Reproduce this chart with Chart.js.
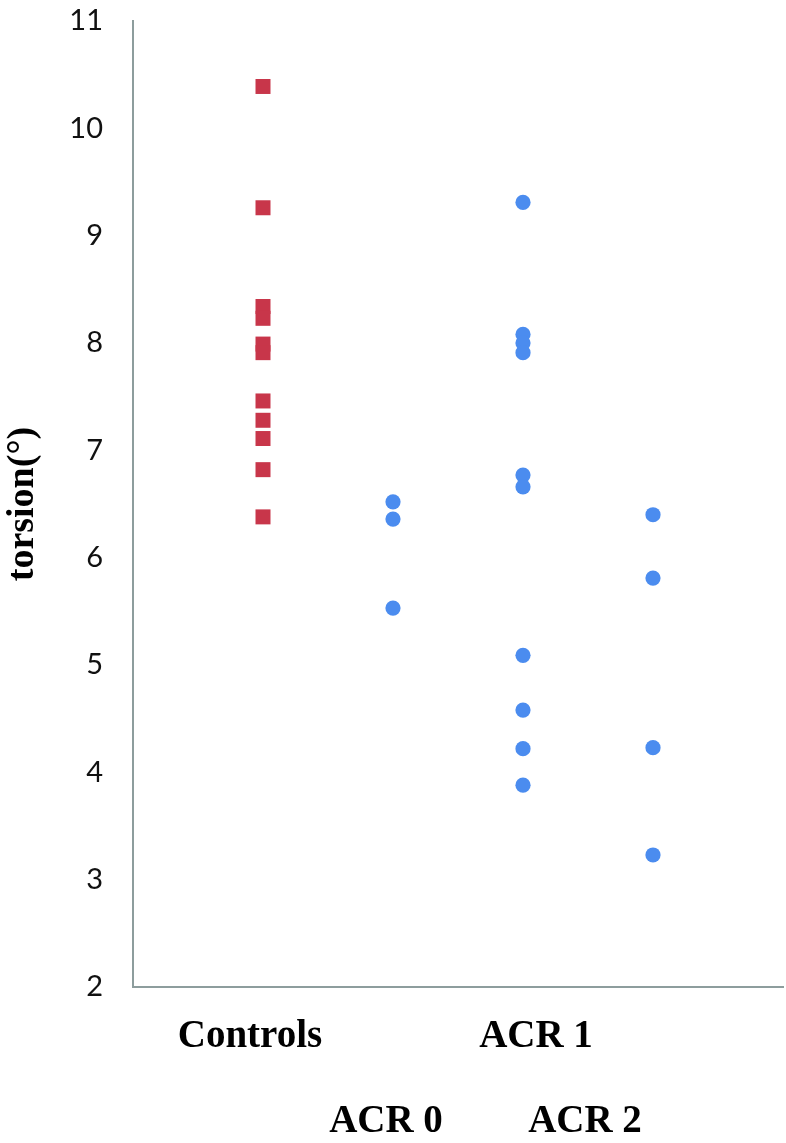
<!DOCTYPE html>
<html>
<head>
<meta charset="utf-8">
<script src="https://cdn.jsdelivr.net/npm/chart.js@4/dist/chart.umd.min.js"></script>
<style>
  html, body { margin: 0; padding: 0; background: #fff; }
  canvas { display: block; }
</style>
</head>
<body>
<canvas id="c" width="786" height="1143"></canvas>
<script>
// ---- data ----
const categories = ["Controls", "ACR 0", "ACR 1", "ACR 2"];
const categoryX = [1, 2, 3, 4];
const controls = [10.39, 9.26, 8.34, 8.23, 7.99, 7.91, 7.46, 7.28, 7.11, 6.82, 6.38];
const acr0 = [6.52, 6.36, 5.53];
const acr1 = [9.31, 8.08, 8.00, 7.91, 6.77, 6.66, 5.09, 4.58, 4.22, 3.88];
const acr2 = [6.40, 5.81, 4.23, 3.23];
const yTicks = [2, 3, 4, 5, 6, 7, 8, 9, 10, 11];
const yTitle = "torsion(°)";

// ---- styles ----
const RED = "#c8364a";
const BLUE = "#4b8cef";
const AXIS = "#8d9d9d";
const labelDx = [-13, -7, 13, -68];      // px shift of each category label
const labelRow = [60, 145, 60, 145];     // baseline offset below axis

const toPts = (x, arr) => arr.map(v => ({ x: x, y: v }));

const catLabels = {
  id: "catLabels",
  afterDraw(chart) {
    const { ctx, scales: { x } } = chart;
    ctx.save();
    ctx.font = 'bold 39px "Liberation Serif", "Times New Roman", serif';
    ctx.fillStyle = "#000";
    ctx.textAlign = "center";
    ctx.textBaseline = "alphabetic";
    categories.forEach((c, i) => {
      const px = x.getPixelForValue(categoryX[i]) + labelDx[i];
      ctx.fillText(c, px, x.top + labelRow[i]);
    });
    ctx.restore();
  }
};

new Chart(document.getElementById("c"), {
  type: "scatter",
  data: {
    datasets: [
      {
        label: categories[0],
        data: toPts(categoryX[0], controls),
        pointStyle: "rect",
        pointRadius: 10.6,
        pointHoverRadius: 10.6,
        backgroundColor: RED,
        borderColor: RED,
        borderWidth: 0
      },
      {
        label: "ACR",
        data: [
          ...toPts(categoryX[1], acr0),
          ...toPts(categoryX[2], acr1),
          ...toPts(categoryX[3], acr2)
        ],
        pointStyle: "circle",
        pointRadius: 7.6,
        pointHoverRadius: 7.6,
        backgroundColor: BLUE,
        borderColor: BLUE,
        borderWidth: 0
      }
    ]
  },
  options: {
    responsive: false,
    animation: false,
    devicePixelRatio: 1,
    layout: { autoPadding: false, padding: { top: 21, right: 3, left: 0, bottom: 0 } },
    plugins: { legend: { display: false }, tooltip: { enabled: false } },
    scales: {
      x: {
        type: "linear",
        min: 0,
        max: 5,
        ticks: { display: false },
        grid: { display: false, drawTicks: false },
        border: { display: true, color: AXIS, width: 2 },
        afterFit(s) { s.height = 156; }
      },
      y: {
        type: "linear",
        min: 2,
        max: 11,
        afterBuildTicks(s) { s.ticks = yTicks.map(v => ({ value: v })); },
        ticks: {
          padding: 30,
          color: "#111",
          font: { family: "Lato, 'Open Sans', sans-serif", size: 29 }
        },
        grid: { display: false, drawTicks: false, tickLength: 0 },
        border: { display: true, color: AXIS, width: 2 },
        title: {
          display: true,
          text: yTitle,
          color: "#000",
          padding: { top: 0, bottom: 0 },
          font: { family: "'Liberation Serif', 'Times New Roman', serif", size: 38, weight: "bold" }
        },
        afterFit(s) { s.width = 133; s.paddingTop = 0; s.paddingBottom = 0; }
      }
    }
  },
  plugins: [catLabels]
});
</script>
</body>
</html>
